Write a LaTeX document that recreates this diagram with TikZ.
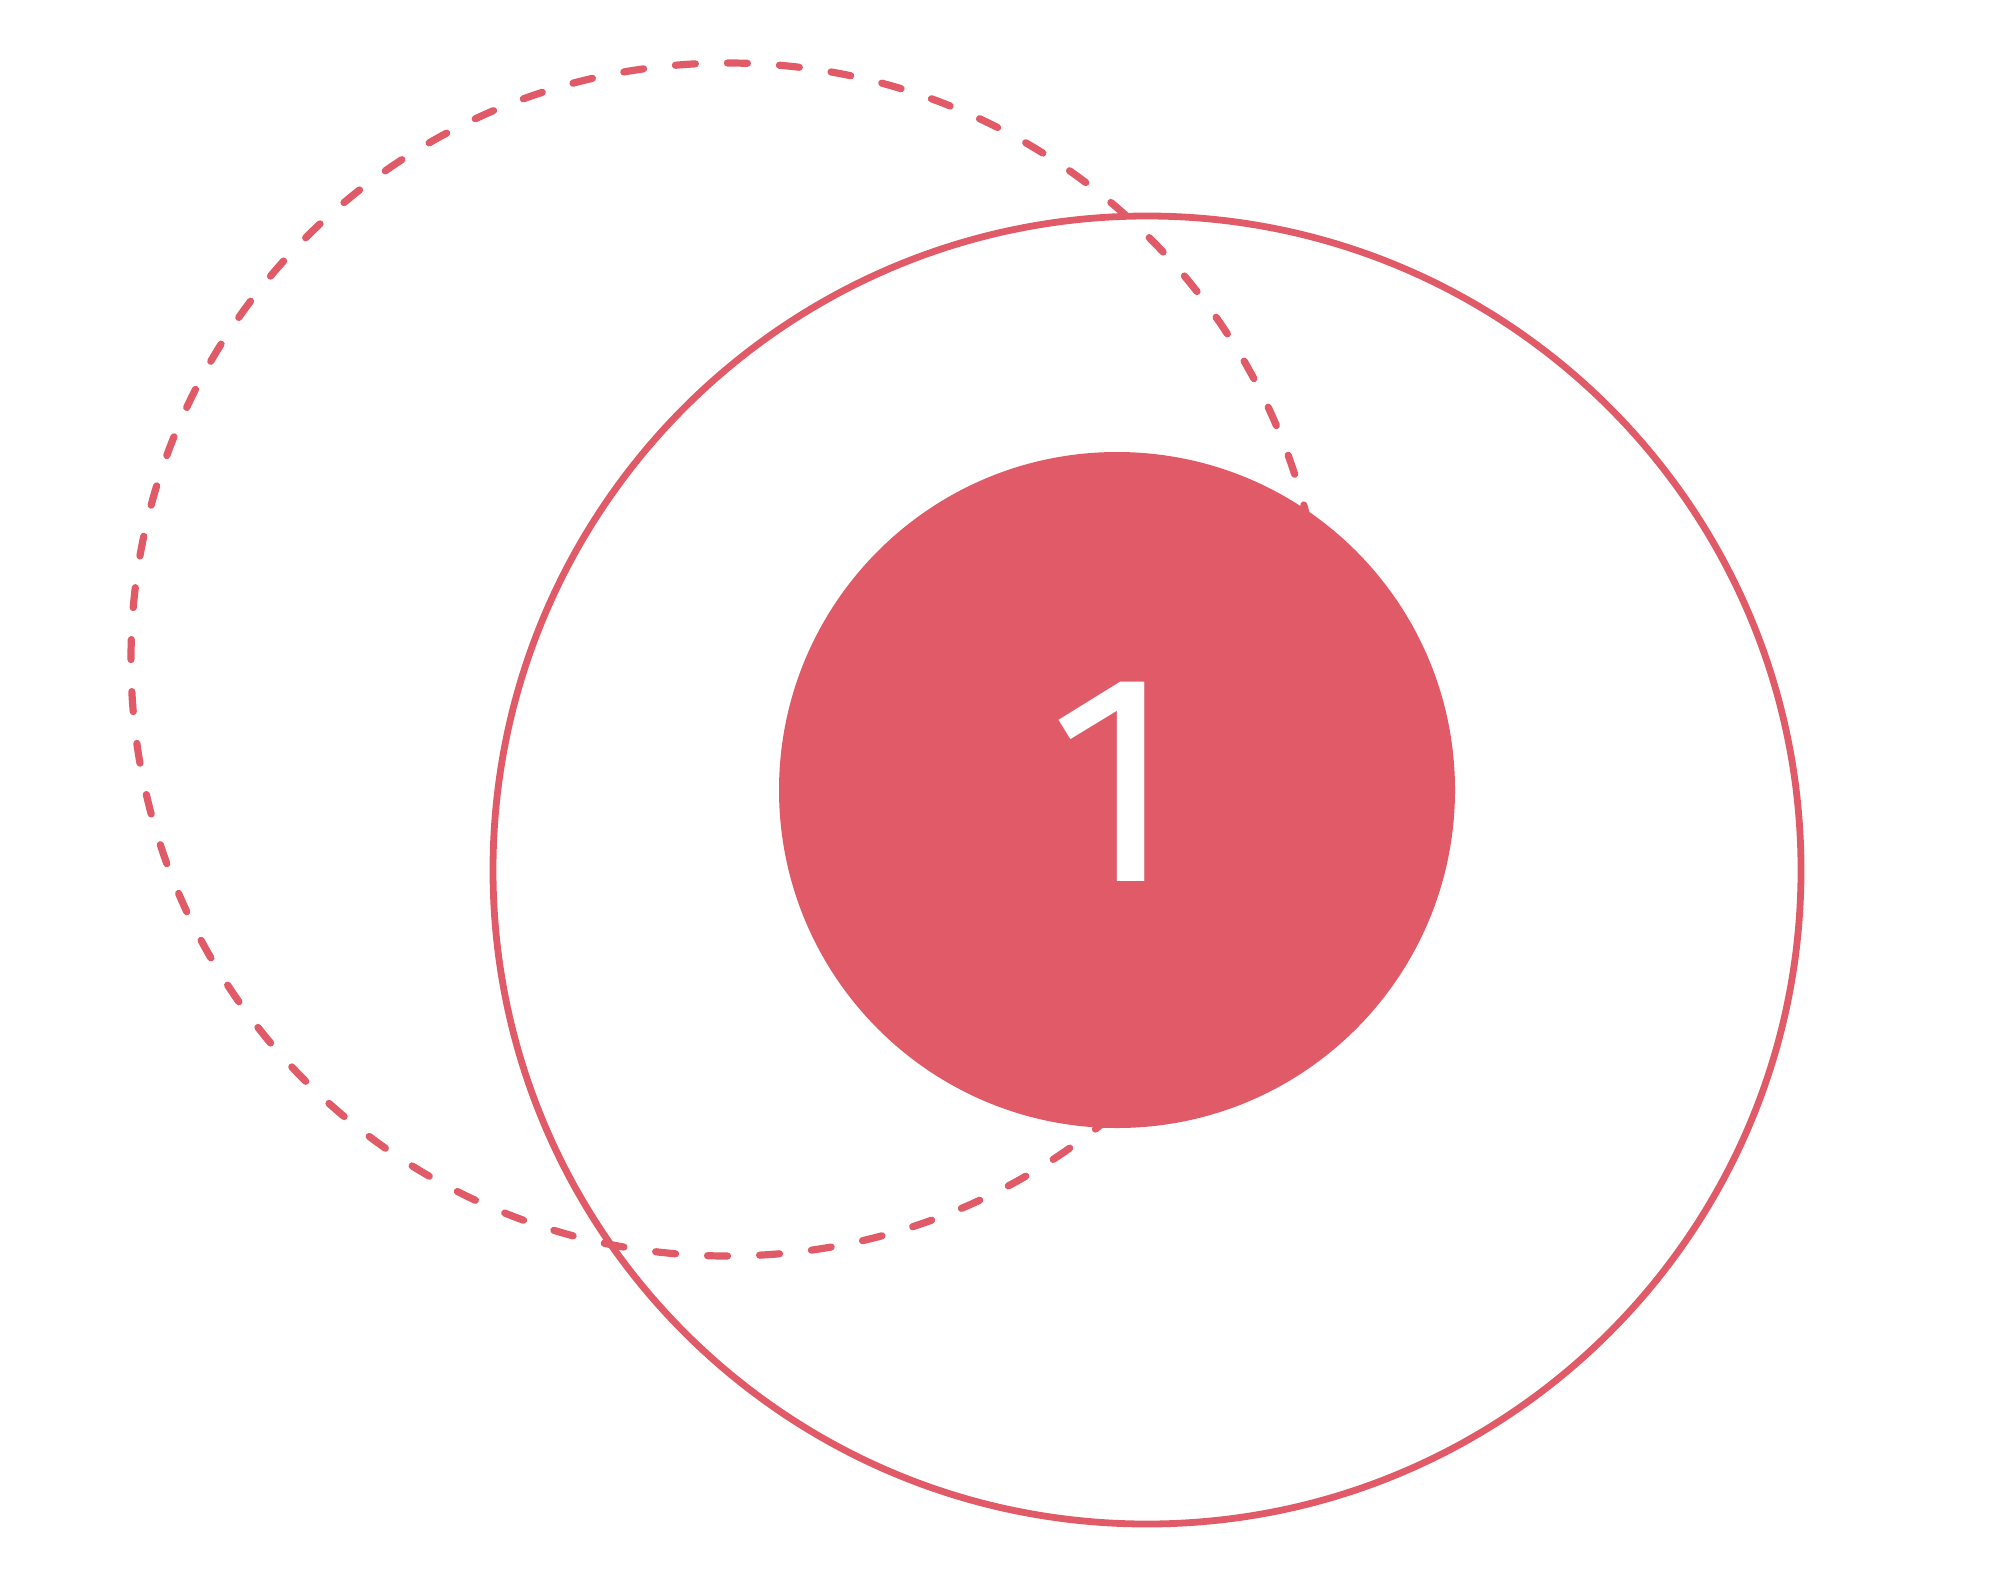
\documentclass[tikz,border=0pt]{standalone}
\usepackage{fontspec}
\setmainfont{Fira Sans}
\definecolor{rose}{RGB}{224,90,103}
\begin{document}
\begin{tikzpicture}[x=0.5pt, y=-0.5pt,
  ring/.style={draw=rose, line width=3.4pt},
  dashring/.style={draw=rose, line width=3.6pt, line cap=round, dash pattern=on 10pt off 16.03pt},
  ball/.style={fill=rose},
  num/.style={text=white, font=\fontsize{149}{149}\selectfont, inner sep=0pt}]
  \useasboundingbox (0,0) rectangle (2000,1579);
  % dashed circle first, the others lie on it
  \draw[dashring] (727.5,659.5) circle [radius=596.5];
  \draw[ring] (1147,870) circle [radius=654];
  \fill[ball] (1117,790) circle [radius=338];
  \node[num] (one) at (1113,782) {1};
\end{tikzpicture}
\end{document}
